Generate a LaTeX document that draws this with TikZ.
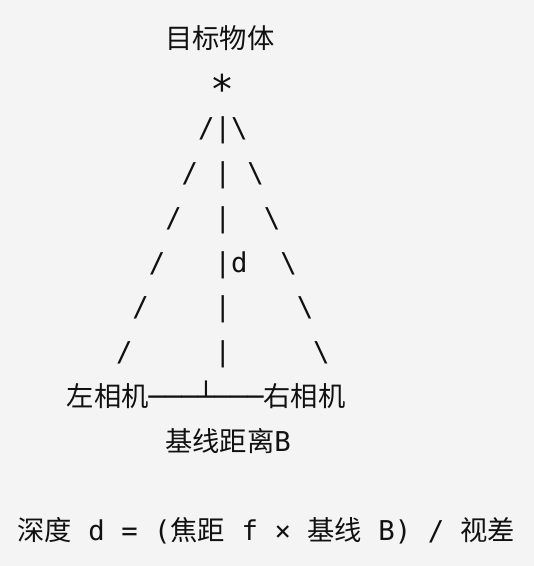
\documentclass[tikz,border=0pt]{standalone}
\usepackage{fontspec}
\usepackage{graphicx}
\setmonofont{DejaVu Sans Mono}
\newfontfamily\cjk{Noto Sans CJK SC}
\definecolor{bgc}{RGB}{244,244,244}
\definecolor{ink}{RGB}{17,17,17}
\begin{document}
\begin{tikzpicture}[x=1pt,y=-1pt,
  txt/.style={inner sep=0pt, anchor=base west, text=ink,
    font=\ttfamily\fontsize{27.3}{30}\selectfont}]
\fill[bgc] (0,0) rectangle (534,566);
\useasboundingbox (0,0) rectangle (534,566);
\def\cw{16.43}
\def\xo{115.8}
\def\ls{44.8}
\def\yo{48}
\node[txt] (title) at ({\xo+3*\cw},{\yo}) {\cjk 目标物体};
\node[txt, anchor=base] (star) at ({\xo+6.5*\cw},103) {\scalebox{1.45}{*}};
\node[txt] (r1) at ({\xo+5*\cw},{\yo+2*\ls}) {/|\textbackslash};
\node[txt] (r2) at ({\xo+4*\cw},{\yo+3*\ls}) {/~|~\textbackslash};
\node[txt] (r3) at ({\xo+3*\cw},{\yo+4*\ls}) {/~~|~~\textbackslash};
\node[txt] (r4) at ({\xo+2*\cw},{\yo+5*\ls}) {/~~~|d~~\textbackslash};
\node[txt] (r5) at ({\xo+1*\cw},{\yo+6*\ls}) {/~~~~|~~~~\textbackslash};
\node[txt] (r6) at ({\xo+0*\cw},{\yo+7*\ls}) {/~~~~~|~~~~~\textbackslash};
\node[txt] (cams) at ({\xo-3*\cw},{\yo+8*\ls}) {{\cjk 左相机}───┴───{\cjk 右相机}};
\node[txt] (base) at ({\xo+3*\cw},{\yo+9*\ls}) {{\cjk 基线距离}B};
\node[txt] (formula) at ({\xo-6*\cw},{\yo+11*\ls}) {{\cjk 深度}~d~=~({\cjk 焦距}~f~×~{\cjk 基线}~B)~/~{\cjk 视差}};
\end{tikzpicture}
\end{document}
